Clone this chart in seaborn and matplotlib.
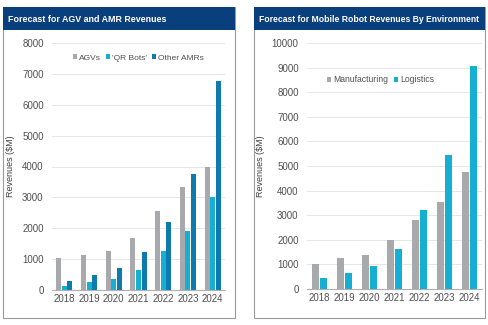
import matplotlib
matplotlib.use("Agg")
import matplotlib.pyplot as plt
import seaborn as sns
import pandas as pd
from matplotlib.patches import Rectangle

years = ["2018", "2019", "2020", "2021", "2022", "2023", "2024"]
agvs = [1030, 1130, 1270, 1700, 2550, 3330, 4000]
qr_bots = [130, 250, 370, 660, 1250, 1900, 3020]
other_amrs = [290, 490, 700, 1230, 2200, 3750, 6780]
manufacturing = [1030, 1250, 1400, 2000, 2800, 3550, 4750]
logistics = [430, 640, 950, 1620, 3200, 5450, 9050]

left_title = "Forecast for AGV and AMR Revenues"
right_title = "Forecast for Mobile Robot Revenues By Environment"

C_GREY = "#A7A9AC"
C_CYAN = "#17AED3"
C_DARK = "#0E7AAE"
C_HEAD = "#0A3F7D"

sns.set_theme(style="white")
plt.rcParams["font.family"] = ["Liberation Sans", "DejaVu Sans"]

fig = plt.figure(figsize=(4.89, 3.25), dpi=100)
W, H = 489, 325

def fx(px):
    return px / W

def fy(py):
    return 1 - py / H

# panel frames and headers
for (x0, x1, title, fs) in [(3, 235, left_title, 6.4), (254, 485, right_title, 6.25)]:
    fig.patches.append(Rectangle((fx(x0), fy(318)), fx(x1 - x0), (318 - 7) / H,
                                 transform=fig.transFigure, facecolor="white",
                                 edgecolor="#9a9a9a", linewidth=0.8, zorder=0))
    fig.patches.append(Rectangle((fx(x0), fy(30)), fx(x1 - x0), 23 / H,
                                 transform=fig.transFigure, facecolor=C_HEAD,
                                 edgecolor="none", zorder=1))
    fig.text(fx(x0 + 5), fy(19), title, color="white", fontsize=fs,
             fontweight="bold", va="center", ha="left", zorder=2)

def make_axes(l, r, top, bottom):
    ax = fig.add_axes([fx(l), fy(bottom), fx(r - l), (bottom - top) / H])
    ax.set_zorder(3)
    return ax

ax1 = make_axes(52, 225, 43, 290)
ax2 = make_axes(307, 482, 43, 289)

df1 = pd.DataFrame({
    "Year": years * 3,
    "Revenue": agvs + qr_bots + other_amrs,
    "Series": ["AGVs"] * 7 + ["'QR Bots'"] * 7 + ["Other AMRs"] * 7,
})
df2 = pd.DataFrame({
    "Year": years * 2,
    "Revenue": manufacturing + logistics,
    "Series": ["Manufacturing"] * 7 + ["Logistics"] * 7,
})

sns.barplot(data=df1, x="Year", y="Revenue", hue="Series", ax=ax1,
            palette=[C_GREY, C_CYAN, C_DARK], width=0.68, gap=0.1,
            saturation=1, edgecolor="none")
sns.barplot(data=df2, x="Year", y="Revenue", hue="Series", ax=ax2,
            palette=[C_GREY, C_CYAN], width=0.62, gap=0.1,
            saturation=1, edgecolor="none")

for ax, ymax, step in [(ax1, 8000, 1000), (ax2, 10000, 1000)]:
    ax.set_ylim(0, ymax)
    ax.set_xlim(-0.5, 6.5)
    ax.set_yticks(range(0, ymax + 1, step))
    ax.yaxis.grid(True, color="#e6e6e6", linewidth=0.7)
    ax.set_axisbelow(True)
    for s in ["top", "right", "left"]:
        ax.spines[s].set_visible(False)
    ax.spines["bottom"].set_color("#b0b0b0")
    ax.spines["bottom"].set_linewidth(0.8)
    ax.tick_params(axis="y", length=0, labelsize=7, colors="#505050", pad=6)
    ax.tick_params(axis="x", length=0, labelsize=7, colors="#505050", pad=3)
    ax.set_xticks([i - 0.5 for i in range(8)], minor=True)
    ax.tick_params(axis="x", which="minor", length=3, color="#b0b0b0", width=0.7)
    ax.set_xlabel("")
    ax.set_ylabel("Revenues ($M)", fontsize=6.5, color="#404040", labelpad=5)
    ax.patch.set_alpha(0)

leg1 = ax1.legend(loc="upper center", bbox_to_anchor=(0.5, 0.985), ncol=3,
                  frameon=False, fontsize=6.0, handlelength=0.5, handleheight=0.5,
                  handletextpad=0.25, columnspacing=0.6, labelcolor="#505050")
leg2 = ax2.legend(loc="upper left", bbox_to_anchor=(0.07, 0.9), ncol=2,
                  frameon=False, fontsize=6.2, handlelength=0.5, handleheight=0.5,
                  handletextpad=0.25, columnspacing=0.6, labelcolor="#505050")

fig.savefig("out.png", dpi=100, facecolor="white")
